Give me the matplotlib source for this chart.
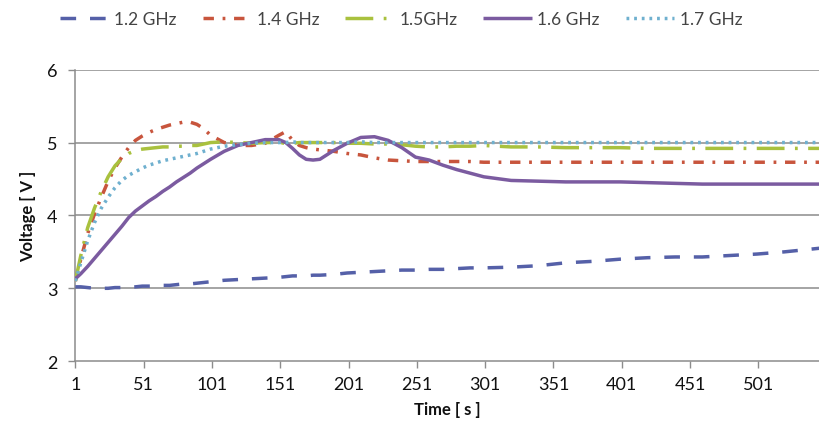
import matplotlib
matplotlib.use("Agg")
import matplotlib.pyplot as plt

plt.rcParams['font.family'] = ['Lato', 'DejaVu Sans']

time = [1, 5, 10, 15, 20, 25, 30, 35, 40, 45, 50, 55, 60, 65, 70, 75, 80, 85, 90, 95, 100,
        110, 120, 130, 140, 150, 155, 160, 165, 170, 175, 180,
        190, 200, 210, 220, 230, 240, 250, 260, 270, 280, 290, 300,
        320, 340, 360, 380, 400, 420, 440, 460, 480, 500, 520, 546]

v12 = [3.02, 3.02, 3.01, 3.00, 3.00, 3.00, 3.01, 3.01, 3.02, 3.02, 3.03, 3.03, 3.03, 3.04, 3.04,
       3.05, 3.06, 3.06, 3.07, 3.08, 3.09,
       3.11, 3.12, 3.13, 3.14, 3.15, 3.16, 3.17, 3.17, 3.17, 3.18, 3.18,
       3.19, 3.21, 3.22, 3.23, 3.24, 3.25, 3.25, 3.26, 3.26, 3.27, 3.28, 3.28,
       3.29, 3.31, 3.35, 3.37, 3.40, 3.42, 3.43, 3.43, 3.45, 3.47, 3.50, 3.55]

v14 = [3.10, 3.40, 3.75, 4.02, 4.25, 4.47, 4.65, 4.80, 4.93, 5.03, 5.09, 5.14, 5.18, 5.21, 5.24,
       5.26, 5.28, 5.28, 5.25, 5.19, 5.10,
       5.00, 4.96, 4.96, 4.99, 5.10, 5.15, 5.03, 4.96, 4.93, 4.91, 4.90,
       4.88, 4.85, 4.83, 4.79, 4.76, 4.75, 4.74, 4.74, 4.74, 4.74, 4.74, 4.73,
       4.73, 4.73, 4.73, 4.73, 4.73, 4.73, 4.73, 4.73, 4.73, 4.73, 4.73, 4.73]

v15 = [3.10, 3.45, 3.83, 4.10, 4.33, 4.53, 4.68, 4.78, 4.85, 4.89, 4.91, 4.92, 4.93, 4.94, 4.94,
       4.95, 4.95, 4.96, 4.96, 4.98, 5.00,
       5.01, 5.00, 4.99, 5.00, 5.00, 4.99, 4.99, 5.00, 5.00, 5.00, 5.00,
       5.00, 4.99, 4.99, 4.98, 4.98, 4.97, 4.95, 4.94, 4.94, 4.95, 4.95, 4.96,
       4.94, 4.94, 4.93, 4.93, 4.93, 4.92, 4.92, 4.92, 4.92, 4.92, 4.92, 4.92]

v16 = [3.13, 3.20, 3.30, 3.41, 3.52, 3.63, 3.74, 3.85, 3.97, 4.06, 4.13, 4.20, 4.26, 4.33, 4.39,
       4.46, 4.52, 4.58, 4.65, 4.71, 4.77,
       4.88, 4.96, 5.00, 5.04, 5.04, 5.00, 4.92, 4.83, 4.77, 4.76, 4.77,
       4.89, 4.99, 5.07, 5.08, 5.03, 4.93, 4.80, 4.76, 4.69, 4.63, 4.58, 4.53,
       4.48, 4.47, 4.46, 4.46, 4.46, 4.45, 4.44, 4.43, 4.43, 4.43, 4.43, 4.43]

v17 = [3.10, 3.35, 3.65, 3.90, 4.10, 4.25, 4.38, 4.48, 4.55, 4.60, 4.65, 4.69, 4.72, 4.75, 4.77,
       4.79, 4.81, 4.83, 4.85, 4.88, 4.91,
       4.95, 4.97, 4.99, 5.00, 5.00, 5.00, 5.01, 5.00, 5.00, 5.00, 5.00,
       5.00, 5.00, 5.01, 5.00, 5.00, 5.00, 5.00, 5.00, 5.00, 5.00, 5.00, 5.00,
       5.00, 5.00, 5.00, 5.00, 5.00, 5.00, 5.00, 5.00, 5.00, 5.00, 5.00, 5.00]

labels = ["1.2 GHz", "1.4 GHz", "1.5GHz", "1.6 GHz", "1.7 GHz"]
xtick_labels = ["1", "51", "101", "151", "201", "251", "301", "351", "401", "451", "501"]

series = [v12, v14, v15, v16, v17]
colors = ["#5560A8", "#C8553D", "#A9C13E", "#7B5BA0", "#6FB0CF"]
dashes = [(4.5, 4), (3, 2.5, 0.8, 2.5), (8, 3, 0.8, 3), None, (0.8, 1.4)]

fig = plt.figure(figsize=(8.19, 4.39), dpi=100)
ax = fig.add_axes([0.092, 0.175, 0.908, 0.664])

grid_c = "#8C8C8C"
for y in [3, 4, 5, 6]:
    ax.axhline(y, color=grid_c, lw=1.1, zorder=1)

handles = []
for vals, c, d, lab in zip(series, colors, dashes, labels):
    line, = ax.plot(time, vals, color=c, lw=2.5, label=lab, zorder=3,
                    solid_capstyle='butt', dash_capstyle='butt')
    if d is not None:
        line.set_dashes(d)
    handles.append(line)

ax.set_xlim(1, 545.4)
ax.set_ylim(2, 6)
ax.set_yticks([2, 3, 4, 5, 6])
xt = [int(s) for s in xtick_labels]
ax.set_xticks(xt)
ax.set_xticklabels(xtick_labels)

for s in ['top', 'right']:
    ax.spines[s].set_visible(False)
for s in ['left', 'bottom']:
    ax.spines[s].set_color(grid_c)
    ax.spines[s].set_linewidth(1.1)

ax.tick_params(axis='both', colors=grid_c, labelcolor='#111111', labelsize=13,
               length=5, width=1.0, direction='out')
ax.tick_params(axis='y', pad=8)
ax.tick_params(axis='x', pad=6)

ax.set_xlabel("Time [ s ]", fontsize=12, fontweight='bold', color='#111111', labelpad=6)
ax.set_ylabel("Voltage [ V ]", fontsize=12, fontweight='bold', color='#111111', labelpad=8)

fig.legend(handles, labels, loc='center', bbox_to_anchor=(0.49, 0.955), ncol=5,
           frameon=False, fontsize=12.5, handlelength=2.8, columnspacing=1.5,
           handletextpad=0.3, labelcolor='#444444')

fig.savefig("out.png", dpi=100)
